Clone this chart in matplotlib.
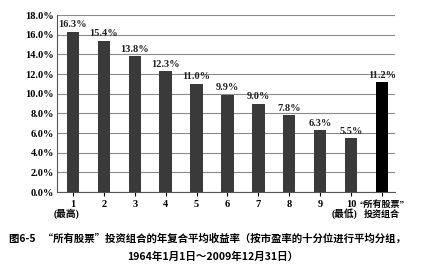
import matplotlib.pyplot as plt

labels = ['1', '2', '3', '4', '5', '6', '7', '8', '9', '10', '“所有股票”\n投资组合']
sublabels = {0: '(最高)', 9: '(最低)'}
returns = [16.3, 15.4, 13.8, 12.3, 11.0, 9.9, 9.0, 7.8, 6.3, 5.5, 11.2]
yticks = [0, 2, 4, 6, 8, 10, 12, 14, 16, 18]

plt.rcParams['font.family'] = ['Liberation Serif', 'Noto Sans CJK SC']

fig = plt.figure(figsize=(4.34, 2.80), dpi=100)
ax = fig.add_axes([0.131, 0.314, 0.779, 0.632])

x = list(range(len(returns)))
colors = ['#3a3a3a'] * (len(returns) - 1) + ['#000000']
ax.bar(x, returns, width=0.4, color=colors, zorder=3)
for xi, v in zip(x, returns):
    ax.text(xi, v + 0.25, '{:.1f}%'.format(v), ha='center', va='bottom',
            fontsize=7.5, fontweight='bold', color='#222222')

ax.set_ylim(0, 18)
ax.set_xlim(-0.52, 10.42)
ax.set_yticks(yticks)
ax.set_yticklabels(['{:.1f}%'.format(t) for t in yticks], fontsize=7.5, fontweight='bold')
ax.set_xticks(x)
ax.set_xticklabels(labels, fontsize=7.5, fontweight='bold', linespacing=1.0)
ax.get_xticklabels()[-1].set_fontsize(6.5)
ax.tick_params(axis='x', length=3, pad=3)
ax.tick_params(axis='y', length=0, pad=2)

# the "(最高)" / "(最低)" lines sit a bit left of their tick in the original
trans = ax.get_xaxis_transform()
for i, s in sublabels.items():
    ax.text(i - 0.22, -0.12, s, transform=trans, ha='center', va='center',
            fontsize=7, fontweight='bold')

ax.grid(axis='y', color='#8a8a8a', linewidth=0.8, zorder=0)
for side in ['top', 'right']:
    ax.spines[side].set_visible(False)
ax.spines['left'].set_color('#555555')
ax.spines['bottom'].set_color('#555555')

fig.text(0.478, 0.15, '图6-5   “所有股票”投资组合的年复合平均收益率（按市盈率的十分位进行平均分组，',
         ha='center', va='center', fontsize=7.5, fontweight='bold',
         family=['Noto Sans CJK SC', 'DejaVu Sans'])
fig.text(0.49, 0.082, '1964年1月1日～2009年12月31日）', ha='center', va='center',
         fontsize=7.6, fontweight='bold', family=['Noto Sans CJK SC', 'DejaVu Sans'])

fig.savefig('out.png', dpi=100)
